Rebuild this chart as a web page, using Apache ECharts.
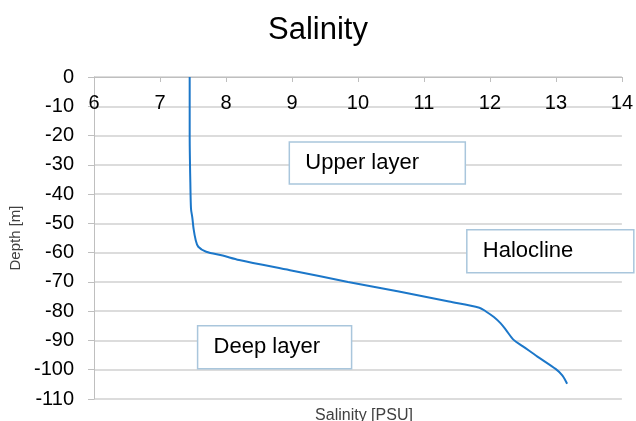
<!DOCTYPE html>
<html>
<head>
<meta charset="utf-8">
<script src="https://cdn.jsdelivr.net/npm/echarts@6/dist/echarts.min.js"></script>
<style>html,body{margin:0;padding:0;background:#fff;}#c{width:636px;height:421px;}</style>
</head>
<body>
<div id="c"></div>
<script>
// Data: depth [m] and salinity [PSU]
const depth =    [0, -10, -20, -30, -36, -45, -48, -52, -55.6, -58, -59.7, -61, -62.5, -66, -70, -73.3, -76.7, -78.8, -80.1, -82, -84.1, -86.3, -89.8, -92, -95.5, -99.8, -102, -104.8];
const salinity = [7.45, 7.45, 7.45, 7.455, 7.46, 7.47, 7.49, 7.51, 7.54, 7.58, 7.70, 7.95, 8.20, 8.97, 9.85, 10.62, 11.38, 11.84, 11.94, 12.06, 12.16, 12.24, 12.36, 12.5, 12.72, 13.0, 13.1, 13.17];
const xTicks = [6, 7, 8, 9, 10, 11, 12, 13, 14];
const yTicks = [0, -10, -20, -30, -40, -50, -60, -70, -80, -90, -100, -110];
// Annotation boxes: text, anchor (top-left) in data coordinates
const noteText = ['Upper layer', 'Halocline', 'Deep layer'];
const noteSal = [8.96, 11.65, 7.57];
const noteDepth = [-22.2, -52.2, -85.0];
const noteSize = [[176, 42], [167, 43], [154, 43]];

const chart = echarts.init(document.getElementById('c'), null, {renderer: 'canvas'});
const font = 'Liberation Sans, Arial, sans-serif';
chart.setOption({
  animation: false,
  textStyle: {fontFamily: font},
  title: [
    {text: 'Salinity', left: 'center', top: 10,
     textStyle: {fontFamily: font, fontSize: 31, fontWeight: 'normal', color: '#000'}},
    {text: 'Salinity [PSU]', left: 359, top: 403, textAlign: 'center',
     textStyle: {fontFamily: font, fontSize: 16, fontWeight: 'normal', color: '#404040'}}
  ],
  grid: {left: 94, top: 77, right: 13, bottom: 22, containLabel: false},
  xAxis: {
    type: 'value', position: 'top', min: xTicks[0], max: xTicks[xTicks.length - 1], interval: 1,
    axisLine: {show: true, onZero: false, lineStyle: {color: '#bfbfbf', width: 1}},
    axisTick: {show: true, inside: true, length: 5, lineStyle: {color: '#bfbfbf'}},
    axisLabel: {inside: true, margin: 16, fontSize: 20, color: '#000', fontFamily: font},
    splitLine: {show: false}
  },
  yAxis: {
    type: 'value', min: yTicks[yTicks.length - 1], max: yTicks[0], interval: 10,
    name: 'Depth [m]', nameLocation: 'middle', nameGap: 69, nameRotate: 90,
    nameTextStyle: {fontSize: 15, color: '#404040', fontFamily: font},
    axisLine: {show: true, lineStyle: {color: '#bfbfbf', width: 1}},
    axisTick: {show: true, inside: false, length: 6, lineStyle: {color: '#bfbfbf'}},
    axisLabel: {margin: 20, fontSize: 20, color: '#000', fontFamily: font},
    splitLine: {show: true, lineStyle: {color: '#d0d0d0', width: 1.5}}
  },
  series: [{
    type: 'line',
    data: depth.map((d, i) => [salinity[i], d]),
    showSymbol: false, smooth: 0.3,
    lineStyle: {color: '#1c77c9', width: 2},
    z: 3
  }]
});

const g = [];
noteText.forEach((t, i) => {
  const p = chart.convertToPixel({gridIndex: 0}, [noteSal[i], noteDepth[i]]);
  const w = noteSize[i][0], h = noteSize[i][1];
  g.push({
    type: 'group', x: p[0], y: p[1], z: 100,
    children: [
      {type: 'rect', shape: {x: 0, y: 0, width: w, height: h},
       style: {fill: '#ffffff', stroke: '#a9c6dc', lineWidth: 1.5}},
      {type: 'text', x: 16, y: h / 2,
       style: {text: t, fontSize: 22, fontFamily: font, fill: '#000', textVerticalAlign: 'middle', verticalAlign: 'middle'}}
    ]
  });
});
chart.setOption({graphic: g});
</script>
</body>
</html>
